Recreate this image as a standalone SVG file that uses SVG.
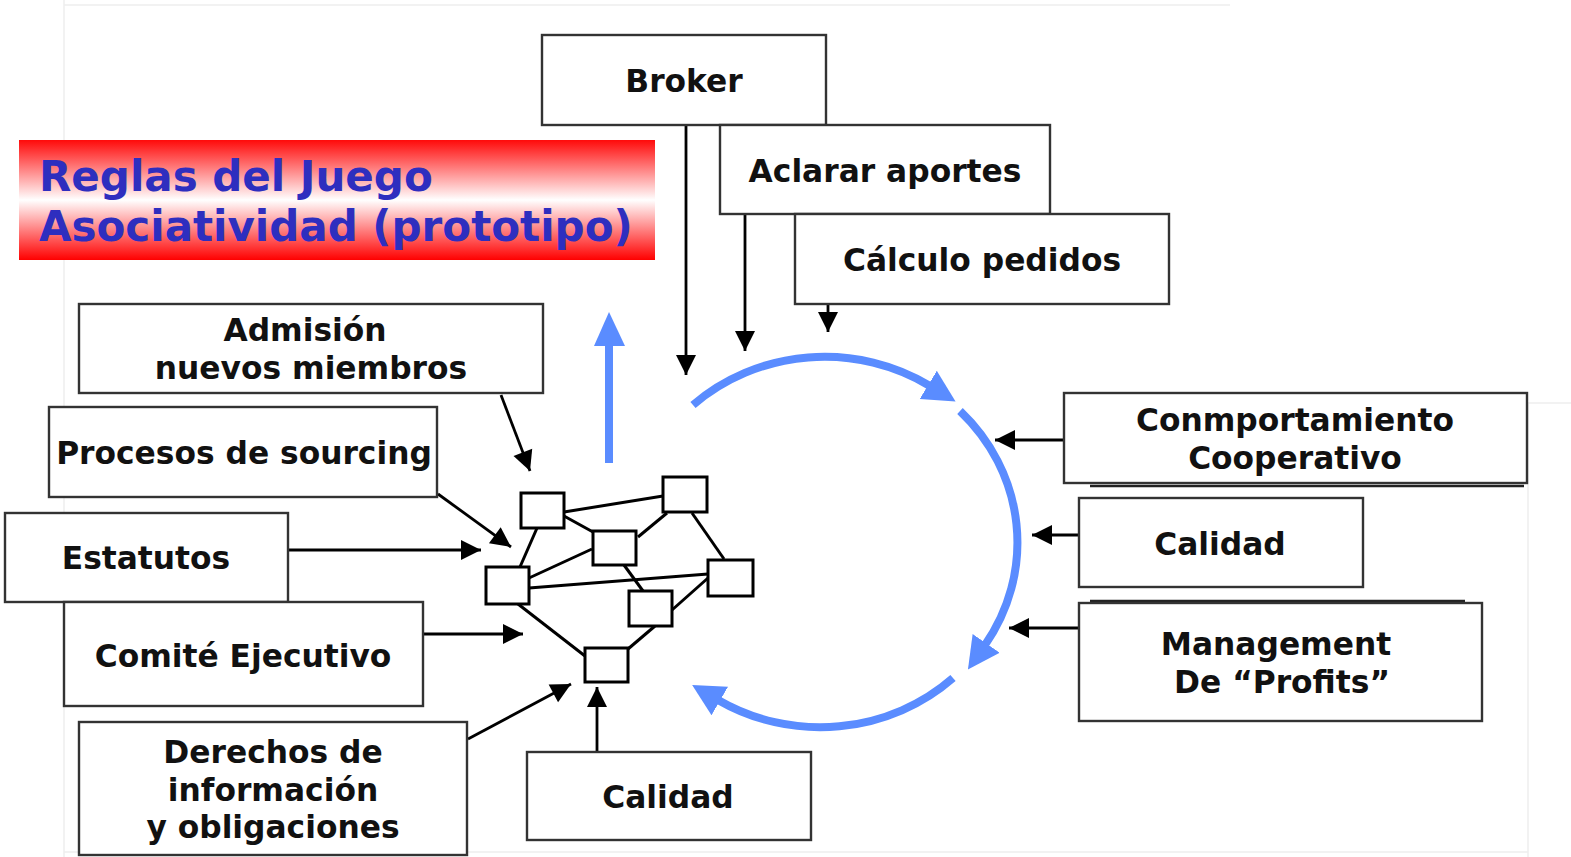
<svg xmlns="http://www.w3.org/2000/svg" width="1571" height="857" viewBox="0 0 1571 857">
<style>
.box{fill:#fff;stroke:#333;stroke-width:2.4}
.lbl{font-family:"DejaVu Sans","Verdana",sans-serif;font-weight:bold;font-size:31.3px;fill:#111;text-anchor:middle}
.title{font-family:"DejaVu Sans","Verdana",sans-serif;font-weight:bold;font-size:42px;fill:#2e2ebf}
.con{stroke:#000;stroke-width:2.8;fill:none;marker-end:url(#ah)}
.net{stroke:#000;stroke-width:3;fill:none}
.nbox{fill:#fff;stroke:#000;stroke-width:3}
.blue{stroke:#5a8cff;stroke-width:8;fill:none;marker-end:url(#bh)}
.faint{stroke:#eeeeee;stroke-width:1.5;fill:none}
</style>
<defs>
<linearGradient id="rg" x1="0" y1="0" x2="0" y2="1">
<stop offset="0" stop-color="#ff0a0a"/>
<stop offset="0.5" stop-color="#ffffff"/>
<stop offset="1" stop-color="#ff0000"/>
</linearGradient>
<marker id="ah" markerUnits="userSpaceOnUse" markerWidth="24" markerHeight="24" viewBox="0 -12 22 24" refX="20" refY="0" orient="auto">
<path d="M0,-10 L20,0 L0,10 z" fill="#000"/>
</marker>
<marker id="bh" markerUnits="userSpaceOnUse" markerWidth="34" markerHeight="36" viewBox="0 -17 33 34" refX="2" refY="0" orient="auto">
<path d="M0,-16 L31,0 L0,16 z" fill="#5a8cff"/>
</marker>
</defs>
<rect width="1571" height="857" fill="#fff"/>
<g id="frame">
<line class="faint" x1="64" y1="0" x2="64" y2="857"/>
<line class="faint" x1="64" y1="5" x2="1230" y2="5"/>
<line class="faint" x1="1528" y1="403" x2="1528" y2="857"/>
<line class="faint" x1="1528" y1="403" x2="1571" y2="403"/>
<line class="faint" x1="64" y1="852" x2="1528" y2="852"/>
</g>
<g id="title">
<rect x="19" y="140" width="636" height="120" fill="url(#rg)"/>
<text class="title" x="39" y="191">Reglas del Juego</text>
<text class="title" x="39" y="241">Asociatividad (prototipo)</text>
</g>
<g id="connectors">
<line class="con" x1="686" y1="125" x2="686" y2="375"/>
<line class="con" x1="745" y1="214" x2="745" y2="351"/>
<line class="con" x1="828" y1="304" x2="828" y2="332"/>
<line class="con" x1="501" y1="395" x2="530" y2="471"/>
<line class="con" x1="438" y1="494" x2="511" y2="547"/>
<line class="con" x1="288" y1="550" x2="481" y2="550"/>
<line class="con" x1="423" y1="634" x2="523" y2="634"/>
<line class="con" x1="468" y1="739" x2="571" y2="684"/>
<line class="con" x1="597" y1="752" x2="597" y2="687"/>
<line class="con" x1="1064" y1="440" x2="995" y2="440"/>
<line class="con" x1="1079" y1="535" x2="1032" y2="535"/>
<line class="con" x1="1079" y1="628" x2="1009" y2="628"/>
<line stroke="#5a8cff" stroke-width="8" x1="609" y1="463" x2="609" y2="342"/>
<polygon points="609,312 594,346 625,346" fill="#5a8cff"/>
<path class="blue" d="M693,405 A196,186 0 0 1 930,386"/>
<path class="blue" d="M960,411 A196,186 0 0 1 985,645"/>
<path class="blue" d="M953,678 A196,186 0 0 1 718,700"/>
</g>
<g id="network">
<line class="net" x1="564" y1="512" x2="663" y2="496"/>
<line class="net" x1="564" y1="516" x2="593" y2="532"/>
<line class="net" x1="537" y1="528" x2="520" y2="567"/>
<line class="net" x1="667" y1="513" x2="638" y2="537"/>
<line class="net" x1="692" y1="513" x2="724" y2="559"/>
<line class="net" x1="592" y1="549" x2="529" y2="578"/>
<line class="net" x1="529" y1="588" x2="708" y2="574"/>
<line class="net" x1="624" y1="565" x2="643" y2="591"/>
<line class="net" x1="672" y1="610" x2="708" y2="578"/>
<line class="net" x1="518" y1="604" x2="585" y2="656"/>
<line class="net" x1="655" y1="626" x2="628" y2="649"/>
<rect class="nbox" x="521" y="493" width="43" height="35"/>
<rect class="nbox" x="663" y="477" width="44" height="35"/>
<rect class="nbox" x="593" y="531" width="43" height="34"/>
<rect class="nbox" x="486" y="567" width="43" height="37"/>
<rect class="nbox" x="708" y="560" width="45" height="36"/>
<rect class="nbox" x="629" y="591" width="43" height="35"/>
<rect class="nbox" x="585" y="648" width="43" height="34"/>
</g>
<g id="broker">
<rect class="box" x="542" y="35" width="284" height="90"/>
<text class="lbl" x="684" y="92">Broker</text>
</g>
<g id="aclarar">
<rect class="box" x="720" y="125" width="330" height="89"/>
<text class="lbl" x="885" y="182">Aclarar aportes</text>
</g>
<g id="calculo">
<rect class="box" x="795" y="214" width="374" height="90"/>
<text class="lbl" x="982" y="271">Cálculo pedidos</text>
</g>
<g id="admision">
<rect class="box" x="79" y="304" width="464" height="89"/>
<text class="lbl" x="305" y="341">Admisión</text>
<text class="lbl" x="311" y="379">nuevos miembros</text>
</g>
<g id="procesos">
<rect class="box" x="49" y="407" width="388" height="90"/>
<text class="lbl" x="244" y="464">Procesos de sourcing</text>
</g>
<g id="estatutos">
<rect class="box" x="5" y="513" width="283" height="89"/>
<text class="lbl" x="146" y="569">Estatutos</text>
</g>
<g id="comite">
<rect class="box" x="64" y="602" width="359" height="104"/>
<text class="lbl" x="243" y="667">Comité Ejecutivo</text>
</g>
<g id="derechos">
<rect class="box" x="79" y="722" width="388" height="133"/>
<text class="lbl" x="273" y="763">Derechos de</text>
<text class="lbl" x="273" y="801">información</text>
<text class="lbl" x="273" y="838">y obligaciones</text>
</g>
<g id="calidad-bottom">
<rect class="box" x="527" y="752" width="284" height="88"/>
<text class="lbl" x="668" y="808">Calidad</text>
</g>
<g id="comportamiento">
<rect class="box" x="1064" y="393" width="463" height="90"/>
<line x1="1090" y1="486" x2="1524" y2="486" stroke="#222" stroke-width="2.5"/>
<text class="lbl" x="1295" y="431">Conmportamiento</text>
<text class="lbl" x="1295" y="469">Cooperativo</text>
</g>
<g id="calidad-right">
<rect class="box" x="1079" y="498" width="284" height="89"/>
<text class="lbl" x="1220" y="555">Calidad</text>
</g>
<g id="management">
<line x1="1090" y1="601" x2="1465" y2="601" stroke="#222" stroke-width="2.5"/>
<rect class="box" x="1079" y="603" width="403" height="118"/>
<text class="lbl" x="1276" y="655">Management</text>
<text class="lbl" x="1282" y="693">De “Profits”</text>
</g>
</svg>
